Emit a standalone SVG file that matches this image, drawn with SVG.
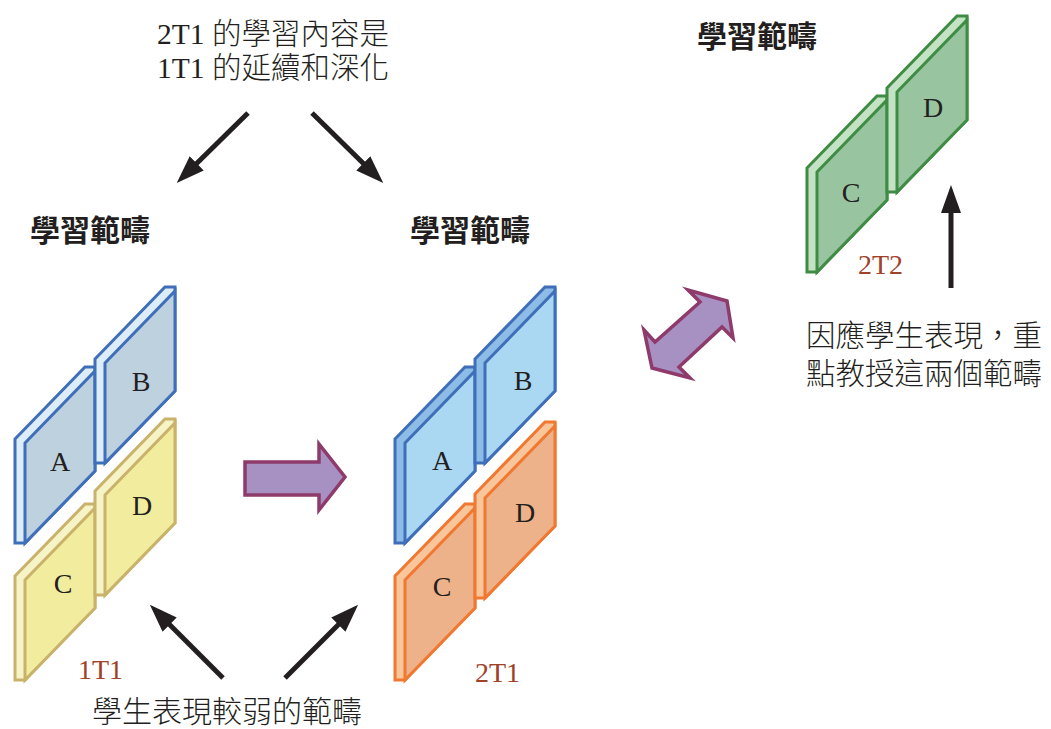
<svg xmlns="http://www.w3.org/2000/svg" width="1051" height="729" viewBox="0 0 1051 729">
<style>
.txt{font-size:29.5px;fill:#231f20}
.ser{font-family:"Liberation Serif",serif}
.cjk{font-family:"Noto Sans CJK TC","Noto Sans CJK SC",sans-serif;font-size:29.5px;font-weight:300;fill:#231f20}
.cjk2{font-family:"Noto Sans CJK TC","Noto Sans CJK SC",sans-serif;font-weight:300}
.head{font-family:"Noto Sans CJK TC","Noto Sans CJK SC",sans-serif;font-size:30px;font-weight:bold;fill:#231f20}
.lbl{font-family:"Liberation Serif",serif;font-size:28px;fill:#a0412a}
.let{font-family:"Liberation Serif",serif;font-size:28px;fill:#231f20;text-anchor:middle}
.o,.f{stroke-width:3;stroke-linejoin:miter}
.b1 .o{fill:#dcedf8;stroke:#3f6fba}.b1 .f{fill:#bdd1df;stroke:#3f6fba}
.y1 .o{fill:#f6f3c6;stroke:#c9b26a}.y1 .f{fill:#f2ec9e;stroke:#c9b26a}
.b2 .o{fill:#8dbde6;stroke:#3f6fba}.b2 .f{fill:#aad8f2;stroke:#3f6fba}
.or .o{fill:#f9c59b;stroke:#f07830}.or .f{fill:#edb289;stroke:#f07830}
.gr .o{fill:#c4e3c4;stroke:#3f8c44}.gr .f{fill:#99c4a0;stroke:#3f8c44}
.arr{stroke:#231f20;stroke-width:5;fill:none;marker-end:url(#ah)}
.blk{fill:#a791c3;stroke:#8e3a6a;stroke-width:3.5;stroke-linejoin:miter}
</style>
<defs>
<marker id="ah" viewBox="0 0 28 20" markerWidth="28" markerHeight="20" markerUnits="userSpaceOnUse" refX="8" refY="10" orient="auto">
<path d="M0,0 L28,10 L0,20 z" fill="#231f20"/>
</marker>
<polygon id="outer" points="-10,-4 60,-76 70,-76 70,28 0,100 -10,100"/>
<polygon id="face" points="0,0 70,-72 70,28 0,100"/>
</defs>

<g id="texts">
<text class="txt" x="273" y="44" text-anchor="middle"><tspan class="ser">2T1 </tspan><tspan class="cjk2">的學習內容是</tspan></text>
<text class="txt" x="273" y="78" text-anchor="middle"><tspan class="ser">1T1 </tspan><tspan class="cjk2">的延續和深化</tspan></text>
<text class="head" x="30" y="241">學習範疇</text>
<text class="head" x="410" y="241">學習範疇</text>
<text class="head" x="697" y="47">學習範疇</text>
<text class="cjk" x="806" y="346">因應學生表現，重</text>
<text class="cjk" x="806" y="384">點教授這兩個範疇</text>
<text class="cjk" x="92" y="722" style="font-size:30px">學生表現較弱的範疇</text>
</g>

<g id="group-1T1">
<g id="plate-1A" class="b1" transform="translate(25,443)"><use href="#outer" class="o"/><use href="#face" class="f"/></g>
<g id="plate-1B" class="b1" transform="translate(105,363)"><use href="#outer" class="o"/><use href="#face" class="f"/></g>
<g id="plate-1C" class="y1" transform="translate(25,580)"><use href="#outer" class="o"/><use href="#face" class="f"/></g>
<g id="plate-1D" class="y1" transform="translate(105,495)"><use href="#outer" class="o"/><use href="#face" class="f"/></g>
<text class="let" x="60" y="471">A</text>
<text class="let" x="141" y="391">B</text>
<text class="let" x="63" y="593">C</text>
<text class="let" x="142" y="515">D</text>
<text class="lbl" x="78" y="679">1T1</text>
</g>

<g id="group-2T1">
<g id="plate-2A" class="b2" transform="translate(405,443)"><use href="#outer" class="o"/><use href="#face" class="f"/></g>
<g id="plate-2B" class="b2" transform="translate(485,363)"><use href="#outer" class="o"/><use href="#face" class="f"/></g>
<g id="plate-2C" class="or" transform="translate(405,580)"><use href="#outer" class="o"/><use href="#face" class="f"/></g>
<g id="plate-2D" class="or" transform="translate(485,498)"><use href="#outer" class="o"/><use href="#face" class="f"/></g>
<text class="let" x="442" y="470">A</text>
<text class="let" x="523" y="390">B</text>
<text class="let" x="442" y="596">C</text>
<text class="let" x="525" y="522">D</text>
<text class="lbl" x="475" y="682">2T1</text>
</g>

<g id="group-2T2">
<g id="plate-3C" class="gr" transform="translate(817,172)"><use href="#outer" class="o"/><use href="#face" class="f"/></g>
<g id="plate-3D" class="gr" transform="translate(897,92)"><use href="#outer" class="o"/><use href="#face" class="f"/></g>
<text class="let" x="851" y="202">C</text>
<text class="let" x="933" y="117">D</text>
<text class="lbl" x="858" y="274">2T2</text>
</g>

<g id="connectors">
<line class="arr" x1="248" y1="113" x2="191" y2="169"/>
<line class="arr" x1="312" y1="113" x2="369" y2="169"/>
<line class="arr" x1="223" y1="678" x2="164" y2="619"/>
<line class="arr" x1="285" y1="678" x2="344" y2="619"/>
<line class="arr" x1="951" y1="288" x2="951" y2="205"/>
<polygon class="blk" points="245,462 319,462 319,444 345,477 319,510 319,495 245,495"/>
<polygon class="blk" points="727,301 688,290 700,302 655,342 644,330 652,368 690,378 679,367 722,327 733,338"/>
</g>
</svg>
